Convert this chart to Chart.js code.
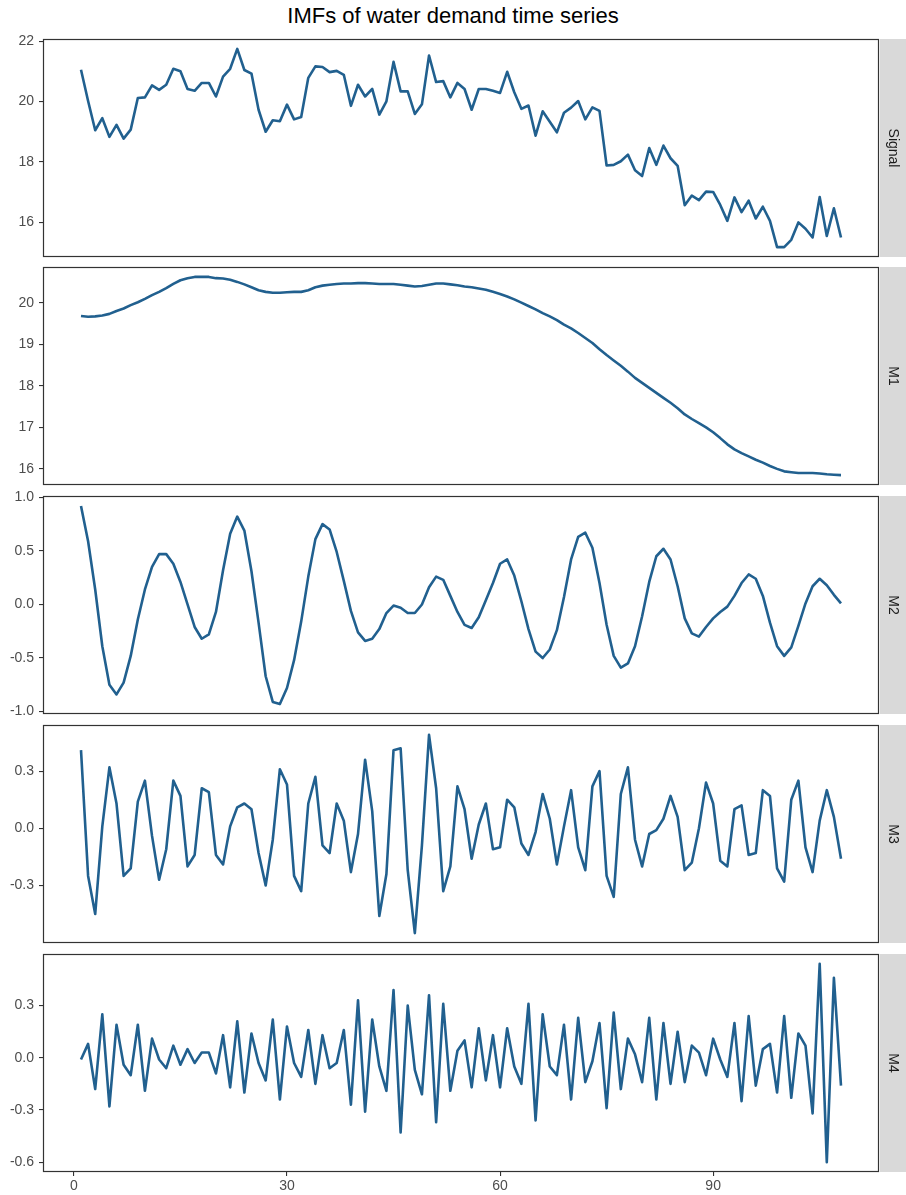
<!DOCTYPE html>
<html>
<head>
<meta charset="utf-8">
<script src="https://cdn.jsdelivr.net/npm/chart.js@4/dist/chart.umd.min.js"></script>
<style>
  html, body { margin: 0; padding: 0; background: #ffffff; }
  #wrap { position: relative; width: 906px; height: 1195px; overflow: hidden; background: #ffffff; }
  #title {
    position: absolute; left: 0; top: 3px; width: 906px; text-align: center;
    font: 22px "Liberation Sans", Arial, sans-serif; line-height: 26px; color: #000000;
  }
  canvas { position: absolute; left: 0; }
</style>
</head>
<body>
<div id="wrap">
  <div id="title">IMFs of water demand time series</div>
</div>
<script>
// Observation index (months 1..108)
const timeIndex = Array.from({ length: 108 }, (_, k) => k + 1);

// Original water demand signal
const signal = [21.06,20.02,19.05,19.45,18.83,19.23,18.77,19.07,20.12,20.14,
  20.54,20.39,20.56,21.09,21.01,20.42,20.36,20.62,20.62,20.17,
  20.83,21.09,21.75,21.05,20.93,19.73,19.00,19.38,19.35,19.90,
  19.41,19.49,20.79,21.17,21.15,20.98,21.02,20.89,19.86,20.56,
  20.17,20.42,19.57,20.01,21.32,20.34,20.34,19.59,19.91,21.53,
  20.65,20.68,20.14,20.62,20.42,19.73,20.42,20.42,20.36,20.29,
  20.99,20.31,19.76,19.87,18.87,19.68,19.33,18.98,19.63,19.80,
  20.02,19.41,19.81,19.69,17.88,17.90,18.02,18.24,17.72,17.53,
  18.46,17.90,18.54,18.12,17.87,16.56,16.88,16.73,17.01,17.00,
  16.57,16.04,16.82,16.33,16.71,16.12,16.51,16.04,15.17,15.17,
  15.41,15.99,15.78,15.49,16.83,15.54,16.46,15.49];

// Mode 1 (trend)
const m1 = [19.68,19.66,19.67,19.69,19.73,19.80,19.86,19.94,20.01,20.09,
  20.18,20.26,20.35,20.45,20.54,20.59,20.62,20.62,20.62,20.59,
  20.58,20.55,20.50,20.44,20.37,20.30,20.26,20.24,20.24,20.25,
  20.26,20.26,20.30,20.37,20.41,20.43,20.45,20.46,20.46,20.47,
  20.47,20.46,20.45,20.45,20.45,20.43,20.41,20.39,20.40,20.43,
  20.46,20.46,20.44,20.42,20.39,20.37,20.34,20.31,20.26,20.21,
  20.15,20.08,20.00,19.92,19.84,19.75,19.67,19.58,19.47,19.38,
  19.27,19.15,19.03,18.88,18.74,18.61,18.48,18.34,18.19,18.07,
  17.95,17.83,17.71,17.59,17.46,17.31,17.20,17.10,17.00,16.88,
  16.74,16.59,16.47,16.38,16.30,16.22,16.15,16.07,16.00,15.94,
  15.92,15.90,15.90,15.90,15.89,15.87,15.86,15.85];

// Mode 2
const m2 = [0.92,0.59,0.14,-0.39,-0.75,-0.84,-0.73,-0.48,-0.14,0.14,
  0.35,0.47,0.47,0.38,0.21,0.00,-0.21,-0.32,-0.28,-0.07,
  0.32,0.66,0.82,0.69,0.31,-0.17,-0.67,-0.91,-0.93,-0.78,
  -0.52,-0.16,0.26,0.61,0.75,0.70,0.49,0.22,-0.06,-0.26,
  -0.34,-0.32,-0.23,-0.08,-0.01,-0.03,-0.08,-0.08,0.00,0.16,
  0.26,0.23,0.08,-0.07,-0.19,-0.22,-0.12,0.04,0.20,0.38,
  0.42,0.27,0.03,-0.23,-0.44,-0.50,-0.42,-0.24,0.07,0.42,
  0.63,0.67,0.53,0.20,-0.19,-0.48,-0.59,-0.55,-0.39,-0.11,
  0.21,0.45,0.52,0.42,0.17,-0.13,-0.27,-0.30,-0.21,-0.13,
  -0.07,-0.02,0.08,0.20,0.28,0.24,0.08,-0.17,-0.39,-0.48,
  -0.40,-0.20,0.01,0.17,0.24,0.18,0.09,0.01];

// Mode 3
const m3 = [0.41,-0.25,-0.45,0.01,0.32,0.13,-0.25,-0.21,0.14,0.25,
  -0.04,-0.27,-0.11,0.25,0.17,-0.20,-0.14,0.21,0.19,-0.14,
  -0.19,0.01,0.11,0.13,0.10,-0.13,-0.30,-0.06,0.31,0.23,
  -0.25,-0.33,0.13,0.27,-0.09,-0.13,0.13,0.04,-0.23,-0.03,
  0.36,0.09,-0.46,-0.24,0.41,0.42,-0.22,-0.55,-0.09,0.49,
  0.21,-0.33,-0.20,0.22,0.10,-0.16,0.02,0.13,-0.11,-0.10,
  0.15,0.11,-0.08,-0.14,-0.02,0.18,0.05,-0.19,0.01,0.20,
  -0.10,-0.22,0.22,0.30,-0.25,-0.36,0.18,0.32,-0.06,-0.20,
  -0.03,-0.01,0.05,0.17,0.06,-0.22,-0.18,0.00,0.24,0.13,
  -0.17,-0.20,0.10,0.12,-0.14,-0.13,0.20,0.17,-0.21,-0.28,
  0.15,0.25,-0.10,-0.23,0.04,0.20,0.06,-0.16];

// Mode 4 (highest frequency)
const m4 = [-0.01,0.08,-0.18,0.25,-0.28,0.19,-0.04,-0.10,0.19,-0.19,
  0.11,-0.01,-0.06,0.07,-0.04,0.05,-0.03,0.03,0.03,-0.09,
  0.13,-0.17,0.21,-0.20,0.14,-0.03,-0.13,0.22,-0.24,0.18,
  -0.03,-0.11,0.16,-0.15,0.13,-0.06,-0.03,0.16,-0.27,0.33,
  -0.31,0.22,-0.05,-0.19,0.39,-0.43,0.30,-0.07,-0.21,0.36,
  -0.37,0.31,-0.19,0.04,0.10,-0.17,0.17,-0.13,0.13,-0.17,
  0.17,-0.05,-0.15,0.31,-0.36,0.25,-0.05,-0.10,0.19,-0.24,
  0.23,-0.14,-0.02,0.20,-0.29,0.26,-0.18,0.11,0.02,-0.14,
  0.23,-0.24,0.20,-0.15,0.15,-0.14,0.07,0.03,-0.10,0.11,
  -0.01,-0.11,0.20,-0.25,0.24,-0.16,0.05,0.08,-0.20,0.24,
  -0.23,0.14,0.07,-0.32,0.54,-0.60,0.46,-0.16];

// Facet strip labels
const panelNames = ['Signal', 'M1', 'M2', 'M3', 'M4'];

// Tick positions and labels
const xTicks = [0, 30, 60, 90];
const xTickLabels = ['0', '30', '60', '90'];
const signalTicks = [16, 18, 20, 22];
const signalTickLabels = ['16', '18', '20', '22'];
const m1Ticks = [16, 17, 18, 19, 20];
const m1TickLabels = ['16', '17', '18', '19', '20'];
const m2Ticks = [-1, -0.5, 0, 0.5, 1];
const m2TickLabels = ['-1.0', '-0.5', '0.0', '0.5', '1.0'];
const m3Ticks = [-0.3, 0, 0.3];
const m3TickLabels = ['-0.3', '0.0', '0.3'];
const m4Ticks = [-0.6, -0.3, 0, 0.3];
const m4TickLabels = ['-0.6', '-0.3', '0.0', '0.3'];

// Styling
const LINE_COLOR = '#21608f';
const FRAME_COLOR = '#333333';
const STRIP_FILL = '#d9d9d9';
const TEXT_COLOR = '#4d4d4d';
const FONT_FAMILY = '"Liberation Sans", Arial, sans-serif';
const AXIS_FONT = { family: FONT_FAMILY, size: 14 };

const PANEL_LEFT = 43;
const PANEL_RIGHT = 879;
const STRIP_W = 906 - PANEL_RIGHT;
const PANEL_TOPS = [39, 267, 496, 725, 954];
const PANEL_H = 218;
const X_AXIS_H = 23;
const TOP_GAP = 14;    // room above each panel for the top tick label
const BOTTOM_GAP = 14; // room below each panel for the bottom tick label

// ggplot-style 5% expansion of a continuous range
function expanded(values, mult = 0.05) {
  const lo = Math.min(...values), hi = Math.max(...values);
  const pad = (hi - lo) * mult;
  return [lo - pad, hi + pad];
}

// Panel frame and right-hand facet strip
const facetDecor = {
  id: 'facetDecor',
  afterDraw(chart, args, opts) {
    const { ctx, chartArea: a } = chart;
    ctx.save();
    ctx.fillStyle = STRIP_FILL;
    ctx.fillRect(a.right + 1, a.top, chart.width - a.right - 1, a.bottom - a.top);
    ctx.strokeStyle = FRAME_COLOR;
    ctx.lineWidth = 1.2;
    ctx.strokeRect(a.left + 0.5, a.top + 0.5, a.right - a.left - 1, a.bottom - a.top - 1);
    ctx.translate(a.right + 1 + (chart.width - a.right - 1) / 2, (a.top + a.bottom) / 2);
    ctx.rotate(Math.PI / 2);
    ctx.fillStyle = '#1a1a1a';
    ctx.font = '14px ' + FONT_FAMILY;
    ctx.textAlign = 'center';
    ctx.textBaseline = 'middle';
    ctx.fillText(opts.label, 0, 0);
    ctx.restore();
  }
};

const panels = [
  { values: signal, ticks: signalTicks, labels: signalTickLabels },
  { values: m1, ticks: m1Ticks, labels: m1TickLabels },
  { values: m2, ticks: m2Ticks, labels: m2TickLabels },
  { values: m3, ticks: m3Ticks, labels: m3TickLabels },
  { values: m4, ticks: m4Ticks, labels: m4TickLabels }
];

const [xMin, xMax] = expanded(timeIndex);
const wrap = document.getElementById('wrap');

panels.forEach((p, k) => {
  const isLast = k === panels.length - 1;
  const top = PANEL_TOPS[k] - TOP_GAP;
  const height = isLast ? 1195 - top : TOP_GAP + PANEL_H + BOTTOM_GAP;
  const canvas = document.createElement('canvas');
  canvas.width = 906;
  canvas.height = height;
  canvas.style.top = top + 'px';
  canvas.style.width = '906px';
  canvas.style.height = height + 'px';
  wrap.appendChild(canvas);

  const [yMin, yMax] = expanded(p.values);

  new Chart(canvas, {
    type: 'line',
    data: {
      labels: timeIndex,
      datasets: [{
        data: p.values,
        borderColor: LINE_COLOR,
        borderWidth: 2.6,
        borderJoinStyle: 'round',
        pointRadius: 0,
        tension: 0,
        fill: false
      }]
    },
    options: {
      responsive: false,
      animation: false,
      devicePixelRatio: 1,
      events: [],
      layout: { padding: { top: TOP_GAP, bottom: isLast ? 0 : BOTTOM_GAP, left: 0, right: STRIP_W } },
      plugins: {
        legend: { display: false },
        tooltip: { enabled: false },
        facetDecor: { label: panelNames[k] }
      },
      scales: {
        x: {
          type: 'linear',
          min: xMin,
          max: xMax,
          display: isLast,
          afterBuildTicks: s => { s.ticks = xTicks.map(v => ({ value: v })); },
          afterFit: s => { s.height = isLast ? X_AXIS_H : 0; },
          grid: { drawOnChartArea: false, drawTicks: true, tickLength: 4, color: FRAME_COLOR, lineWidth: 1.1 },
          border: { display: false },
          ticks: {
            font: AXIS_FONT, color: TEXT_COLOR, padding: 2,
            maxRotation: 0, autoSkip: false,
            callback: (v, i) => xTickLabels[i]
          }
        },
        y: {
          type: 'linear',
          min: yMin,
          max: yMax,
          afterBuildTicks: s => { s.ticks = p.ticks.map(v => ({ value: v })); },
          afterFit: s => { s.width = PANEL_LEFT; },
          grid: { drawOnChartArea: false, drawTicks: true, tickLength: 4, color: FRAME_COLOR, lineWidth: 1.1 },
          border: { display: false },
          ticks: {
            font: AXIS_FONT, color: TEXT_COLOR, padding: 5, autoSkip: false,
            callback: (v, i) => p.labels[i]
          }
        }
      }
    },
    plugins: [facetDecor]
  });
});
</script>
</body>
</html>
